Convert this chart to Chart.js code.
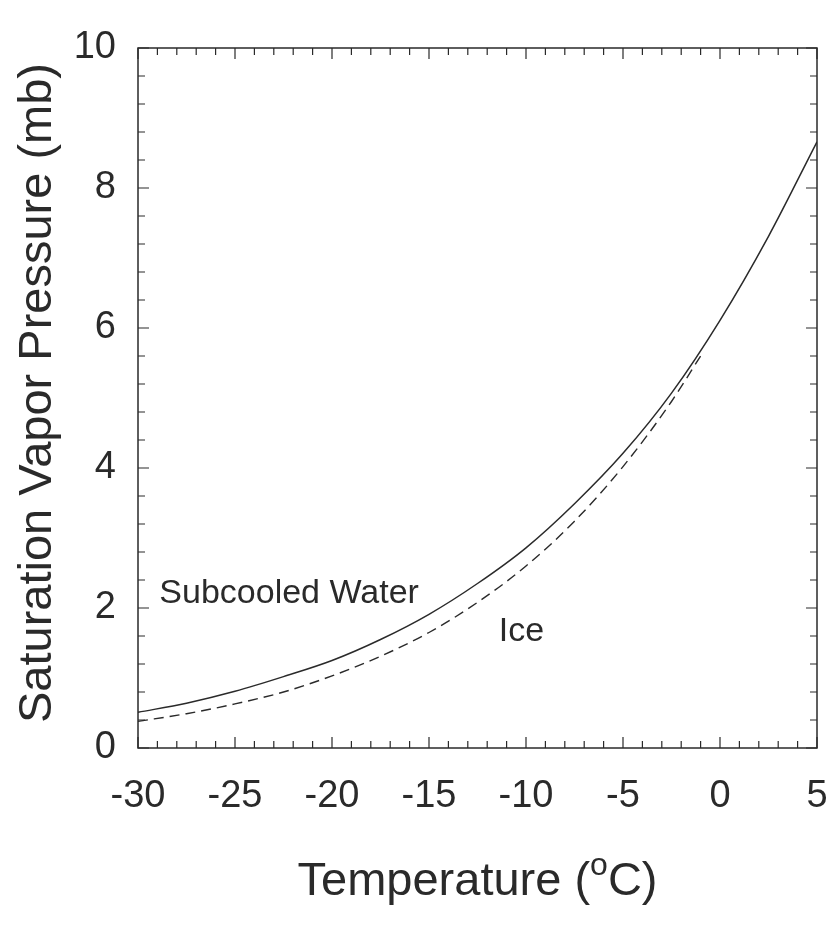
<!DOCTYPE html>
<html>
<head>
  <meta charset="utf-8" />
  <title>Saturation Vapor Pressure</title>
  <script src="https://cdn.jsdelivr.net/npm/chart.js"></script>
  <style>
    html, body { margin: 0; padding: 0; background: #fff; }
    #wrap { width: 835px; height: 932px; }
  </style>
</head>
<body>
  <div id="wrap"><canvas id="vaporChart" width="835" height="932"></canvas></div>

  <script>
    // Datos
    const temps = [-30, -27.5, -25, -22.5, -20, -17.5, -15, -12.5, -10, -7.5, -5, -2.5, 0, 2.5, 5];
    const waterVals = [0.51, 0.64, 0.81, 1.02, 1.25, 1.55, 1.91, 2.35, 2.86, 3.49, 4.21, 5.07, 6.11, 7.31, 8.66];
    const iceTemps = [-30, -27.5, -25, -22.5, -20, -17.5, -15, -12.5, -10, -7.5, -5, -2.5, -1];
    const iceVals = [0.38, 0.49, 0.63, 0.80, 1.03, 1.31, 1.65, 2.08, 2.6, 3.24, 4.02, 4.95, 5.6];
    const xTicks = [-30, -25, -20, -15, -10, -5, 0, 5];
    const yTicks = [0, 2, 4, 6, 8, 10];

    const ink = '#2a2a2a';
    const font = 'Liberation Sans, Arial, sans-serif';

    // caja, marcas hacia adentro y textos
    const framePlugin = {
      id: 'frame',
      afterDraw(chart) {
        const c = chart.ctx;
        const a = chart.chartArea;
        const xs = chart.scales.x;
        const ys = chart.scales.y;
        c.save();
        c.strokeStyle = ink;
        c.lineWidth = 1.5;
        c.strokeRect(a.left, a.top, a.right - a.left, a.bottom - a.top);
        c.lineWidth = 1.2;
        for (let v = -30; v <= 5; v += 1) {
          const px = xs.getPixelForValue(v);
          const len = (v % 5 === 0) ? 11 : 7;
          c.beginPath();
          c.moveTo(px, a.bottom); c.lineTo(px, a.bottom - len);
          c.moveTo(px, a.top); c.lineTo(px, a.top + len);
          c.stroke();
        }
        for (let i = 0; i <= 25; i++) {
          const v = i * 0.4;
          const py = ys.getPixelForValue(v);
          const len = (i % 5 === 0) ? 11 : 7;
          c.beginPath();
          c.moveTo(a.left, py); c.lineTo(a.left + len, py);
          c.moveTo(a.right, py); c.lineTo(a.right - len, py);
          c.stroke();
        }
        // etiquetas de las curvas
        c.fillStyle = ink;
        c.font = '34px ' + font;
        c.textBaseline = 'middle';
        c.textAlign = 'left';
        c.fillText('Subcooled Water', xs.getPixelForValue(-28.9), ys.getPixelForValue(2.2));
        c.fillText('Ice', xs.getPixelForValue(-11.4), ys.getPixelForValue(1.66));

        // titulo del eje x con superindice
        const base = 895;
        c.textBaseline = 'alphabetic';
        const big = '47px ' + font;
        const small = '32px ' + font;
        const p1 = 'Temperature (';
        const p3 = 'C)';
        c.font = big;
        const w1 = c.measureText(p1).width;
        const w3 = c.measureText(p3).width;
        c.font = small;
        const w2 = c.measureText('o').width;
        const total = w1 + w2 + w3;
        let x0 = (a.left + a.right) / 2 - total / 2;
        c.font = big;
        c.fillText(p1, x0, base);
        c.font = small;
        c.fillText('o', x0 + w1, base - 20);
        c.font = big;
        c.fillText(p3, x0 + w1 + w2, base);

        // titulo del eje y
        c.save();
        c.translate(38, (a.top + a.bottom) / 2 - 5);
        c.rotate(-Math.PI / 2);
        c.textAlign = 'center';
        c.textBaseline = 'middle';
        c.font = '47px ' + font;
        c.fillText('Saturation Vapor Pressure (mb)', 0, 0);
        c.restore();
        c.restore();
      }
    };

    const ctx = document.getElementById('vaporChart').getContext('2d');
    const vaporChart = new Chart(ctx, {
      type: 'line',
      data: {
        datasets: [{
          label: 'Subcooled Water',
          data: temps.map((t, i) => ({ x: t, y: waterVals[i] })),
          borderColor: ink,
          borderWidth: 1.5,
          pointRadius: 0,
          cubicInterpolationMode: 'monotone',
          fill: false
        }, {
          label: 'Ice',
          data: iceTemps.map((t, i) => ({ x: t, y: iceVals[i] })),
          borderColor: ink,
          borderWidth: 1.4,
          borderDash: [10, 6],
          pointRadius: 0,
          cubicInterpolationMode: 'monotone',
          fill: false
        }]
      },
      options: {
        responsive: false,
        animation: false,
        layout: { padding: { top: 48, right: 18, left: 0, bottom: 0 } },
        plugins: {
          legend: { display: false },
          tooltip: { enabled: false }
        },
        scales: {
          x: {
            type: 'linear',
            min: -30,
            max: 5,
            afterBuildTicks: (s) => { s.ticks = xTicks.map(v => ({ value: v })); },
            afterFit: (s) => { s.height = 932 - 48 - 700; s.paddingRight = 0; s.paddingLeft = 0; },
            grid: { display: false, drawTicks: false },
            border: { display: false },
            ticks: { color: ink, font: { size: 38, family: font }, padding: 26, maxRotation: 0 }
          },
          y: {
            min: 0,
            max: 10,
            afterBuildTicks: (s) => { s.ticks = yTicks.map(v => ({ value: v })); },
            afterFit: (s) => { s.width = 138; s.paddingTop = 0; s.paddingBottom = 0; },
            grid: { display: false, drawTicks: false },
            border: { display: false },
            ticks: { color: ink, font: { size: 38, family: font }, padding: 22 }
          }
        }
      },
      plugins: [framePlugin]
    });
  </script>
</body>
</html>
